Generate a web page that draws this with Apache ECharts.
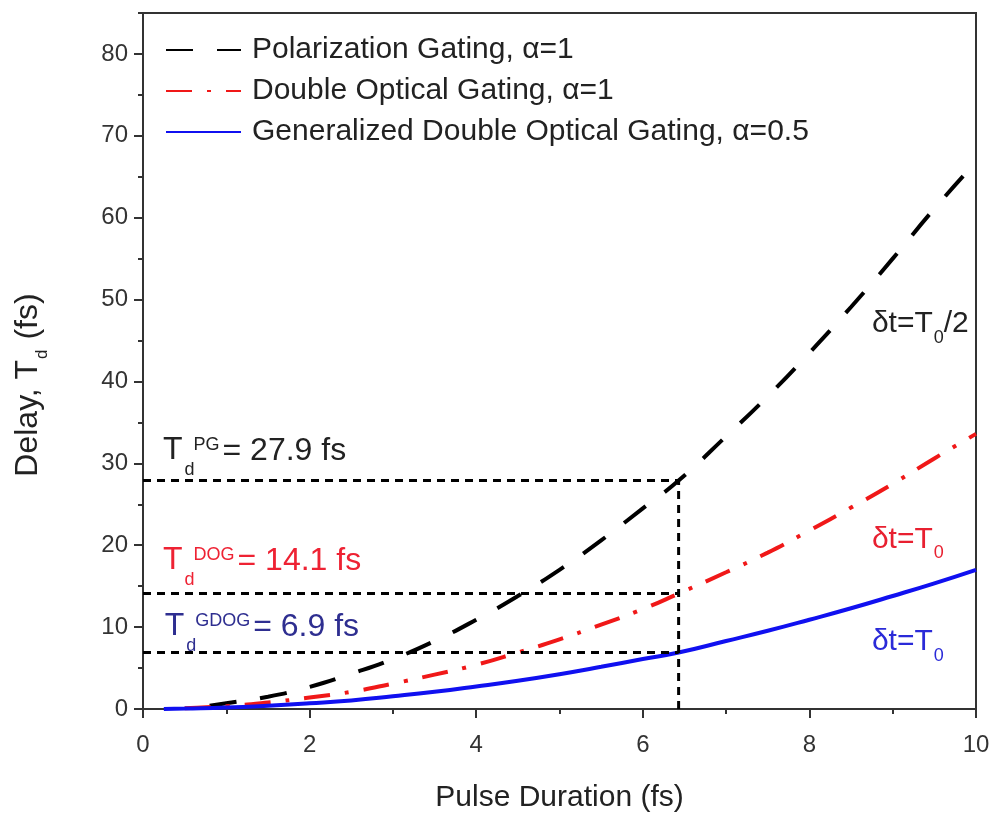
<!DOCTYPE html>
<html><head><meta charset="utf-8">
<script src="https://cdn.jsdelivr.net/npm/echarts@6/dist/echarts.min.js"></script>
<style>html,body{margin:0;padding:0;background:#fff}#c{width:995px;height:817px}</style>
</head><body><div id="c"></div>
<script>
const FONT = "'Liberation Sans', Arial, sans-serif";

// ---- data ----
const seriesNames = ['Polarization Gating, \u03b1=1', 'Double Optical Gating, \u03b1=1', 'Generalized Double Optical Gating, \u03b1=0.5'];
const xPG   = [0.8, 1, 1.5, 2, 2.5, 3, 3.5, 4, 4.5, 5, 5.5, 6, 6.43, 7, 7.5, 8, 8.5, 9, 9.5, 10];
const yPG   = [0.4, 0.7, 1.5, 2.7, 4.3, 6.1, 8.3, 10.9, 13.8, 17.0, 20.6, 24.5, 27.9, 33.3, 38.2, 43.5, 49.1, 55.0, 61.1, 66.8];
const xDOG  = [0.5, 1, 1.5, 2, 2.5, 3, 3.5, 4, 4.5, 5, 5.5, 6, 6.43, 7, 7.5, 8, 8.5, 9, 9.5, 10];
const yDOG  = [0.1, 0.35, 0.8, 1.4, 2.1, 3.1, 4.2, 5.4, 6.9, 8.5, 10.3, 12.2, 14.1, 16.7, 19.1, 21.8, 24.6, 27.5, 30.6, 33.6];
const xGDOG = [0.25, 0.5, 1, 1.5, 2, 2.5, 3, 3.5, 4, 4.5, 5, 5.5, 6, 6.43, 7, 7.5, 8, 8.5, 9, 9.5, 10];
const yGDOG = [0.0, 0.05, 0.17, 0.4, 0.7, 1.05, 1.55, 2.1, 2.75, 3.45, 4.25, 5.15, 6.1, 6.9, 8.3, 9.55, 10.9, 12.3, 13.8, 15.35, 17.0];
const guideX = 6.43;
const guideY = [27.9, 14.1, 6.9];
const xTicks = [0, 2, 4, 6, 8, 10];
const yTicks = [0, 10, 20, 30, 40, 50, 60, 70, 80];
const yMinorTicks = [5, 15, 25, 35, 45, 55, 65, 75, 85];
const annotations = ['= 27.9 fs', '= 14.1 fs', '= 6.9 fs'];
const annotationSup = ['PG', 'DOG', 'GDOG'];

const zip = (xs, ys) => xs.map((x, i) => [x, ys[i]]);

const chart = echarts.init(document.getElementById('c'), null, {renderer: 'canvas'});

const guideStyle = {color: '#000', width: 3, type: [8, 6]};
const guideSeries = guideY.map((y, i) => ({
  name: 'guide' + i, type: 'line', symbol: 'none', silent: true, z: 5,
  lineStyle: guideStyle, data: [[0, y], [guideX, y]]
}));
guideSeries.push({
  name: 'guideV', type: 'line', symbol: 'none', silent: true, z: 5,
  lineStyle: guideStyle, data: [[guideX, 0], [guideX, guideY[0]]]
});

const option = {
  animation: false,
  backgroundColor: '#fff',
  textStyle: {fontFamily: FONT},
  grid: {left: 143, right: 19, top: 13, bottom: 108, show: true, borderColor: '#333', borderWidth: 2,
    backgroundColor: 'transparent', containLabel: false, outerBoundsMode: 'none'},
  legend: {
    data: seriesNames, orient: 'vertical', left: 160, top: 30,
    itemWidth: 75, itemHeight: 20, itemGap: 11,
    itemStyle: {opacity: 0},
    textStyle: {fontSize: 30, color: '#222', fontFamily: FONT, lineHeight: 30, padding: [0, 0, 0, 6]},
    selectedMode: false
  },
  xAxis: {
    type: 'value', min: 0, max: 10, interval: 2,
    axisLine: {lineStyle: {color: '#333', width: 2}},
    axisTick: {length: 9, lineStyle: {color: '#333', width: 2}},
    minorTick: {show: true, splitNumber: 2, length: 5, lineStyle: {color: '#333', width: 2}},
    splitLine: {show: false},
    axisLabel: {fontSize: 24, color: '#333', margin: 24, fontFamily: FONT, customValues: xTicks},
    name: 'Pulse Duration (fs)', nameLocation: 'middle', nameGap: 74,
    nameTextStyle: {fontSize: 30, color: '#222', fontFamily: FONT}
  },
  yAxis: [{
    type: 'value', min: 0, max: 85, interval: 10,
    axisLine: {lineStyle: {color: '#333', width: 2}},
    axisTick: {length: 9, lineStyle: {color: '#333', width: 2}, customValues: yTicks},
    splitLine: {show: false},
    axisLabel: {fontSize: 24, color: '#333', margin: 15, fontFamily: FONT, customValues: yTicks}
  }, {
    type: 'value', min: 0, max: 85, interval: 5, position: 'left', offset: 0,
    axisLine: {show: false},
    axisTick: {length: 5, lineStyle: {color: '#333', width: 2}, customValues: yMinorTicks},
    splitLine: {show: false},
    axisLabel: {show: false}
  }],
  series: [
    {name: seriesNames[0], type: 'line', symbol: 'none', smooth: true, z: 3,
      lineStyle: {color: '#000', width: 4, type: [27, 24]}, itemStyle: {color: '#000'},
      data: zip(xPG, yPG)},
    {name: seriesNames[1], type: 'line', symbol: 'none', smooth: true, z: 3,
      lineStyle: {color: '#f01818', width: 4, type: [26, 15, 4, 15]}, itemStyle: {color: '#f01818'},
      data: zip(xDOG, yDOG)},
    {name: seriesNames[2], type: 'line', symbol: 'none', smooth: true, z: 3,
      lineStyle: {color: '#1010f0', width: 4, type: 'solid'}, itemStyle: {color: '#1010f0'},
      data: zip(xGDOG, yGDOG)}
  ].concat(guideSeries)
};
chart.setOption(option);

const mctx = document.createElement('canvas').getContext('2d');
const tw = (t, size) => { mctx.font = size + 'px ' + FONT; return mctx.measureText(t).width; };

const px = (p) => chart.convertToPixel({xAxisIndex: 0, yAxisIndex: 0}, p);
const annColors = ['#222', '#ee2233', '#2e2e90'];
const annAnchors = [[0.24, 31.6], [0.24, 18.2], [0.26, 10.1]];
const graphics = [];
annotations.forEach((txt, i) => {
  const p = px(annAnchors[i]);
  const c = annColors[i];
  const wT = tw('T', 32);
  const wS = tw(annotationSup[i], 18);
  graphics.push({type: 'text', x: p[0], y: p[1], silent: true,
    style: {text: 'T', fontSize: 32, fill: c, align: 'left', verticalAlign: 'middle', fontFamily: FONT}});
  graphics.push({type: 'text', x: p[0] + wT + 11, y: p[1] - 5, silent: true,
    style: {text: annotationSup[i], fontSize: 18, fill: c, align: 'left', verticalAlign: 'middle', fontFamily: FONT}});
  graphics.push({type: 'text', x: p[0] + wT + 2, y: p[1] + 20, silent: true,
    style: {text: 'd', fontSize: 18, fill: c, align: 'left', verticalAlign: 'middle', fontFamily: FONT}});
  graphics.push({type: 'text', x: p[0] + wT + 11 + wS + 3, y: p[1] + 1, silent: true,
    style: {text: txt, fontSize: 32, fill: c, align: 'left', verticalAlign: 'middle', fontFamily: FONT}});
});
const dtMain = ['\u03b4t=T', '\u03b4t=T', '\u03b4t=T'];
const dtTail = ['/2', '', ''];
const dtColors = ['#222', '#e82030', '#2a2ad8'];
const dtAnchors = [[8.75, 47.0], [8.75, 20.7], [8.75, 8.2]];
dtMain.forEach((t, i) => {
  const p = px(dtAnchors[i]);
  const c = dtColors[i];
  const w = tw(t, 30);
  const w0 = tw('0', 18);
  graphics.push({type: 'text', x: p[0], y: p[1], silent: true,
    style: {text: t, fontSize: 30, fill: c, align: 'left', verticalAlign: 'middle', fontFamily: FONT}});
  graphics.push({type: 'text', x: p[0] + w + 1, y: p[1] + 14, silent: true,
    style: {text: '0', fontSize: 18, fill: c, align: 'left', verticalAlign: 'middle', fontFamily: FONT}});
  if (dtTail[i]) graphics.push({type: 'text', x: p[0] + w + w0 + 1, y: p[1], silent: true,
    style: {text: dtTail[i], fontSize: 30, fill: c, align: 'left', verticalAlign: 'middle', fontFamily: FONT}});
});
// y axis name (rotated group)
(function () {
  const s1 = 'Delay, T', s2 = 'd', s3 = ' (fs)';
  const w1 = tw(s1, 32), w2 = tw(s2, 17), w3 = tw(s3, 32);
  const L = w1 + w2 + 2 + w3;
  const x0 = -L / 2;
  graphics.push({
    type: 'group', x: 28, y: 385, rotation: Math.PI / 2, silent: true,
    children: [
      {type: 'text', x: x0, y: 0, style: {text: s1, fontSize: 32, fill: '#222', align: 'left', verticalAlign: 'middle', fontFamily: FONT}},
      {type: 'text', x: x0 + w1 + 1, y: 14, style: {text: s2, fontSize: 17, fill: '#222', align: 'left', verticalAlign: 'middle', fontFamily: FONT}},
      {type: 'text', x: x0 + w1 + w2 + 2, y: 0, style: {text: s3, fontSize: 32, fill: '#222', align: 'left', verticalAlign: 'middle', fontFamily: FONT}}
    ]
  });
})();
chart.setOption({graphic: graphics});
</script>
</body></html>
